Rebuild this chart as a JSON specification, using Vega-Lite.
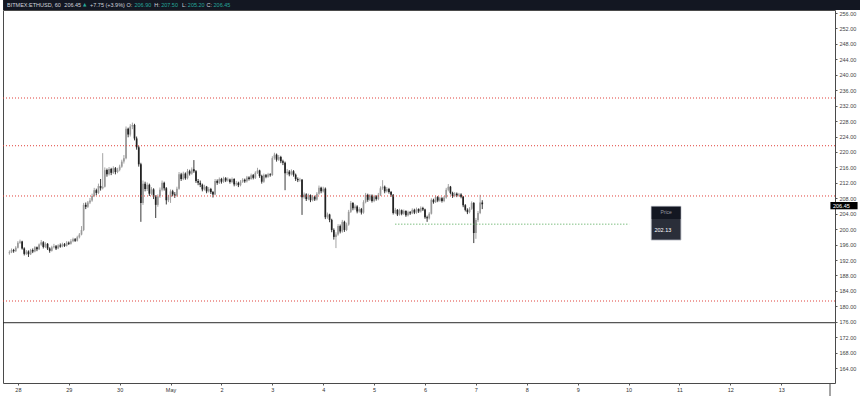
{
"$schema":"https://vega.github.io/schema/vega-lite/v6.json",
"width":832,"height":373,
"autosize":{"type":"none"},
"padding":{"left":3,"top":10,"right":25,"bottom":13},
"background":"white",
"config":{"view":{"stroke":"#4a4a4a","strokeWidth":1},"font":"Liberation Sans",
 "axis":{"grid":false,"domain":false,"tickSize":2,"tickColor":"#555","labelFontSize":5.5,"labelColor":"#333","labelPadding":2,"labelFont":"Liberation Sans","labelOverlap":false,"labelFlush":false}},
"datasets":{
"candles":[
{"i":-4,"o":193.8,"h":194.5,"l":193.4,"c":194.0},
{"i":-3,"o":194.0,"h":195.0,"l":193.8,"c":194.6},
{"i":-2,"o":194.6,"h":194.9,"l":193.9,"c":194.3},
{"i":-1,"o":194.3,"h":195.6,"l":194.1,"c":195.2},
{"i":0,"o":195.2,"h":196.9,"l":195.0,"c":196.5},
{"i":1,"o":196.5,"h":197.3,"l":196.2,"c":196.8},
{"i":2,"o":196.8,"h":197.0,"l":194.7,"c":195.0},
{"i":3,"o":195.0,"h":195.3,"l":193.2,"c":193.6},
{"i":4,"o":193.6,"h":194.6,"l":193.3,"c":194.2},
{"i":5,"o":194.2,"h":194.5,"l":192.8,"c":193.5},
{"i":6,"o":193.5,"h":194.9,"l":193.3,"c":194.6},
{"i":7,"o":194.6,"h":195.0,"l":193.8,"c":194.2},
{"i":8,"o":194.2,"h":195.6,"l":194.0,"c":195.3},
{"i":9,"o":195.3,"h":195.5,"l":194.3,"c":194.8},
{"i":10,"o":194.8,"h":196.3,"l":194.6,"c":196.0},
{"i":11,"o":196.0,"h":197.2,"l":195.7,"c":196.6},
{"i":12,"o":196.6,"h":196.9,"l":195.0,"c":195.4},
{"i":13,"o":195.4,"h":196.6,"l":195.1,"c":196.2},
{"i":14,"o":196.2,"h":196.4,"l":194.6,"c":195.0},
{"i":15,"o":195.0,"h":195.3,"l":193.9,"c":194.4},
{"i":16,"o":194.4,"h":195.7,"l":194.2,"c":195.3},
{"i":17,"o":195.3,"h":196.2,"l":195.0,"c":195.6},
{"i":18,"o":195.6,"h":195.9,"l":194.6,"c":195.0},
{"i":19,"o":195.0,"h":196.1,"l":194.8,"c":195.8},
{"i":20,"o":195.8,"h":196.3,"l":195.2,"c":195.5},
{"i":21,"o":195.5,"h":196.5,"l":195.3,"c":196.1},
{"i":22,"o":196.1,"h":196.4,"l":195.4,"c":195.7},
{"i":23,"o":195.7,"h":196.9,"l":195.5,"c":196.5},
{"i":24,"o":196.5,"h":196.8,"l":195.9,"c":196.2},
{"i":25,"o":196.2,"h":197.4,"l":196.0,"c":196.9},
{"i":26,"o":196.9,"h":197.8,"l":196.6,"c":197.4},
{"i":27,"o":197.4,"h":197.7,"l":196.7,"c":197.0},
{"i":28,"o":197.0,"h":198.3,"l":196.8,"c":197.9},
{"i":29,"o":197.9,"h":199.0,"l":197.6,"c":198.6},
{"i":30,"o":198.6,"h":200.8,"l":198.4,"c":199.8},
{"i":31,"o":199.8,"h":206.8,"l":199.5,"c":206.3},
{"i":32,"o":206.3,"h":206.9,"l":205.2,"c":205.8},
{"i":33,"o":205.8,"h":207.3,"l":205.5,"c":206.9},
{"i":34,"o":206.9,"h":208.1,"l":206.5,"c":207.4},
{"i":35,"o":207.4,"h":209.2,"l":207.1,"c":208.6},
{"i":36,"o":208.6,"h":210.7,"l":208.3,"c":210.1},
{"i":37,"o":210.1,"h":210.5,"l":208.8,"c":209.4},
{"i":38,"o":209.4,"h":211.8,"l":209.1,"c":211.2},
{"i":39,"o":211.2,"h":213.0,"l":210.0,"c":210.6},
{"i":40,"o":210.6,"h":219.7,"l":210.3,"c":211.0},
{"i":41,"o":211.0,"h":216.0,"l":210.8,"c":215.3},
{"i":42,"o":215.3,"h":215.7,"l":213.6,"c":214.2},
{"i":43,"o":214.2,"h":216.1,"l":213.9,"c":215.6},
{"i":44,"o":215.6,"h":215.9,"l":214.0,"c":214.6},
{"i":45,"o":214.6,"h":216.3,"l":214.3,"c":215.8},
{"i":46,"o":215.8,"h":216.1,"l":214.2,"c":214.8},
{"i":47,"o":214.8,"h":215.9,"l":214.5,"c":215.4},
{"i":48,"o":215.4,"h":216.7,"l":215.0,"c":216.2},
{"i":49,"o":216.2,"h":218.0,"l":215.9,"c":217.5},
{"i":50,"o":217.5,"h":219.2,"l":217.0,"c":218.4},
{"i":51,"o":218.4,"h":226.6,"l":218.1,"c":226.0},
{"i":52,"o":226.0,"h":226.3,"l":223.8,"c":224.5},
{"i":53,"o":224.5,"h":227.2,"l":224.0,"c":226.6},
{"i":54,"o":226.6,"h":227.6,"l":225.9,"c":227.0},
{"i":55,"o":227.0,"h":227.3,"l":223.0,"c":223.5},
{"i":56,"o":223.5,"h":224.0,"l":220.6,"c":221.2},
{"i":57,"o":221.2,"h":221.6,"l":216.2,"c":216.8},
{"i":58,"o":216.8,"h":217.2,"l":201.9,"c":206.8},
{"i":59,"o":206.8,"h":212.6,"l":206.3,"c":211.8},
{"i":60,"o":211.8,"h":212.3,"l":209.8,"c":210.4},
{"i":61,"o":210.4,"h":212.1,"l":209.9,"c":211.5},
{"i":62,"o":211.5,"h":211.8,"l":208.6,"c":209.2},
{"i":63,"o":209.2,"h":210.9,"l":208.8,"c":210.3},
{"i":64,"o":210.3,"h":210.6,"l":207.8,"c":208.4},
{"i":65,"o":208.4,"h":208.8,"l":202.9,"c":206.3},
{"i":66,"o":206.3,"h":209.0,"l":205.8,"c":208.5},
{"i":67,"o":208.5,"h":210.8,"l":208.1,"c":210.2},
{"i":68,"o":210.2,"h":212.6,"l":209.8,"c":212.0},
{"i":69,"o":212.0,"h":212.3,"l":210.0,"c":210.6},
{"i":70,"o":210.6,"h":210.9,"l":206.4,"c":207.5},
{"i":71,"o":207.5,"h":208.9,"l":207.0,"c":208.4},
{"i":72,"o":208.4,"h":210.3,"l":206.8,"c":209.8},
{"i":73,"o":209.8,"h":210.2,"l":208.5,"c":209.0},
{"i":74,"o":209.0,"h":209.6,"l":208.1,"c":208.7},
{"i":75,"o":208.7,"h":211.0,"l":208.4,"c":210.5},
{"i":76,"o":210.5,"h":214.8,"l":210.2,"c":214.2},
{"i":77,"o":214.2,"h":214.6,"l":212.5,"c":213.0},
{"i":78,"o":213.0,"h":214.9,"l":212.7,"c":214.4},
{"i":79,"o":214.4,"h":214.7,"l":212.8,"c":213.2},
{"i":80,"o":213.2,"h":215.6,"l":212.9,"c":215.0},
{"i":81,"o":215.0,"h":215.4,"l":213.9,"c":214.4},
{"i":82,"o":214.4,"h":216.0,"l":214.1,"c":215.5},
{"i":83,"o":215.5,"h":217.9,"l":214.6,"c":215.0},
{"i":84,"o":215.0,"h":215.3,"l":212.0,"c":212.5},
{"i":85,"o":212.5,"h":213.0,"l":211.4,"c":212.0},
{"i":86,"o":212.0,"h":212.6,"l":210.9,"c":211.5},
{"i":87,"o":211.5,"h":211.8,"l":209.8,"c":210.3},
{"i":88,"o":210.3,"h":211.5,"l":210.0,"c":211.0},
{"i":89,"o":211.0,"h":211.2,"l":209.3,"c":209.8},
{"i":90,"o":209.8,"h":210.9,"l":209.5,"c":210.4},
{"i":91,"o":210.4,"h":210.7,"l":209.1,"c":209.6},
{"i":92,"o":209.6,"h":209.9,"l":208.2,"c":209.0},
{"i":93,"o":209.0,"h":213.0,"l":208.8,"c":212.5},
{"i":94,"o":212.5,"h":212.9,"l":211.5,"c":212.0},
{"i":95,"o":212.0,"h":213.4,"l":211.7,"c":213.0},
{"i":96,"o":213.0,"h":213.3,"l":211.8,"c":212.3},
{"i":97,"o":212.3,"h":213.6,"l":212.0,"c":213.2},
{"i":98,"o":213.2,"h":213.5,"l":212.2,"c":212.6},
{"i":99,"o":212.6,"h":213.4,"l":212.3,"c":212.9},
{"i":100,"o":212.9,"h":213.1,"l":211.8,"c":212.2},
{"i":101,"o":212.2,"h":213.4,"l":211.9,"c":213.0},
{"i":102,"o":213.0,"h":213.2,"l":211.1,"c":211.6},
{"i":103,"o":211.6,"h":212.5,"l":211.2,"c":212.0},
{"i":104,"o":212.0,"h":212.3,"l":210.9,"c":211.4},
{"i":105,"o":211.4,"h":212.7,"l":211.1,"c":212.3},
{"i":106,"o":212.3,"h":213.2,"l":212.0,"c":212.8},
{"i":107,"o":212.8,"h":213.1,"l":212.0,"c":212.4},
{"i":108,"o":212.4,"h":213.8,"l":212.1,"c":213.4},
{"i":109,"o":213.4,"h":213.7,"l":212.6,"c":213.0},
{"i":110,"o":213.0,"h":214.4,"l":212.8,"c":214.0},
{"i":111,"o":214.0,"h":214.3,"l":212.9,"c":213.3},
{"i":112,"o":213.3,"h":215.0,"l":213.0,"c":214.6},
{"i":113,"o":214.6,"h":215.9,"l":214.3,"c":215.2},
{"i":114,"o":215.2,"h":215.4,"l":213.3,"c":213.8},
{"i":115,"o":213.8,"h":214.1,"l":211.8,"c":212.3},
{"i":116,"o":212.3,"h":214.4,"l":212.0,"c":214.0},
{"i":117,"o":214.0,"h":214.3,"l":213.2,"c":213.6},
{"i":118,"o":213.6,"h":214.6,"l":213.3,"c":214.2},
{"i":119,"o":214.2,"h":214.5,"l":213.6,"c":214.0},
{"i":120,"o":214.0,"h":218.9,"l":213.8,"c":218.4},
{"i":121,"o":218.4,"h":219.8,"l":218.0,"c":219.3},
{"i":122,"o":219.3,"h":219.6,"l":217.5,"c":218.0},
{"i":123,"o":218.0,"h":219.2,"l":217.7,"c":218.7},
{"i":124,"o":218.7,"h":219.0,"l":217.1,"c":217.6},
{"i":125,"o":217.6,"h":218.0,"l":216.6,"c":217.2},
{"i":126,"o":217.2,"h":217.5,"l":210.1,"c":214.5},
{"i":127,"o":214.5,"h":215.6,"l":214.0,"c":214.9},
{"i":128,"o":214.9,"h":215.3,"l":213.7,"c":214.2},
{"i":129,"o":214.2,"h":215.5,"l":213.9,"c":215.0},
{"i":130,"o":215.0,"h":215.3,"l":213.6,"c":214.1},
{"i":131,"o":214.1,"h":214.4,"l":212.5,"c":213.0},
{"i":132,"o":213.0,"h":213.4,"l":212.2,"c":212.7},
{"i":133,"o":212.7,"h":213.3,"l":212.3,"c":212.8},
{"i":134,"o":212.8,"h":213.0,"l":203.7,"c":208.3},
{"i":135,"o":208.3,"h":209.5,"l":207.9,"c":209.0},
{"i":136,"o":209.0,"h":209.3,"l":207.3,"c":207.8},
{"i":137,"o":207.8,"h":209.2,"l":207.5,"c":208.8},
{"i":138,"o":208.8,"h":209.0,"l":207.0,"c":207.5},
{"i":139,"o":207.5,"h":208.8,"l":207.2,"c":208.4},
{"i":140,"o":208.4,"h":208.7,"l":207.3,"c":207.7},
{"i":141,"o":207.7,"h":209.6,"l":207.4,"c":209.2},
{"i":142,"o":209.2,"h":211.3,"l":208.9,"c":210.7},
{"i":143,"o":210.7,"h":211.0,"l":209.3,"c":209.8},
{"i":144,"o":209.8,"h":211.0,"l":209.5,"c":210.5},
{"i":145,"o":210.5,"h":210.8,"l":202.6,"c":203.1},
{"i":146,"o":203.1,"h":204.3,"l":202.7,"c":203.8},
{"i":147,"o":203.8,"h":204.0,"l":201.8,"c":202.4},
{"i":148,"o":202.4,"h":202.7,"l":199.2,"c":199.8},
{"i":149,"o":199.8,"h":200.2,"l":197.3,"c":198.0},
{"i":150,"o":198.0,"h":199.2,"l":195.1,"c":198.6},
{"i":151,"o":198.6,"h":201.3,"l":198.3,"c":200.8},
{"i":152,"o":200.8,"h":201.2,"l":198.9,"c":199.4},
{"i":153,"o":199.4,"h":202.4,"l":199.1,"c":201.9},
{"i":154,"o":201.9,"h":202.2,"l":199.3,"c":199.8},
{"i":155,"o":199.8,"h":201.7,"l":199.5,"c":201.2},
{"i":156,"o":201.2,"h":205.0,"l":200.9,"c":204.5},
{"i":157,"o":204.5,"h":207.3,"l":204.2,"c":206.8},
{"i":158,"o":206.8,"h":207.0,"l":204.9,"c":205.4},
{"i":159,"o":205.4,"h":206.4,"l":205.0,"c":205.9},
{"i":160,"o":205.9,"h":206.2,"l":204.1,"c":204.6},
{"i":161,"o":204.6,"h":205.7,"l":204.3,"c":205.2},
{"i":162,"o":205.2,"h":205.5,"l":203.8,"c":204.3},
{"i":163,"o":204.3,"h":207.5,"l":204.0,"c":207.0},
{"i":164,"o":207.0,"h":209.4,"l":206.7,"c":208.9},
{"i":165,"o":208.9,"h":209.2,"l":207.1,"c":207.6},
{"i":166,"o":207.6,"h":209.1,"l":207.3,"c":208.7},
{"i":167,"o":208.7,"h":209.0,"l":206.9,"c":207.3},
{"i":168,"o":207.3,"h":208.9,"l":207.0,"c":208.5},
{"i":169,"o":208.5,"h":208.8,"l":207.4,"c":207.8},
{"i":170,"o":207.8,"h":209.4,"l":207.5,"c":208.9},
{"i":171,"o":208.9,"h":211.1,"l":208.6,"c":210.6},
{"i":172,"o":210.6,"h":212.7,"l":210.2,"c":211.0},
{"i":173,"o":211.0,"h":211.3,"l":209.3,"c":209.8},
{"i":174,"o":209.8,"h":210.9,"l":209.5,"c":210.4},
{"i":175,"o":210.4,"h":210.7,"l":209.2,"c":209.6},
{"i":176,"o":209.6,"h":209.9,"l":208.4,"c":208.9},
{"i":177,"o":208.9,"h":209.1,"l":203.8,"c":204.2},
{"i":178,"o":204.2,"h":205.5,"l":203.9,"c":205.0},
{"i":179,"o":205.0,"h":205.2,"l":203.4,"c":203.8},
{"i":180,"o":203.8,"h":205.3,"l":203.5,"c":204.9},
{"i":181,"o":204.9,"h":205.1,"l":203.6,"c":204.0},
{"i":182,"o":204.0,"h":205.1,"l":203.7,"c":204.7},
{"i":183,"o":204.7,"h":204.9,"l":203.2,"c":203.6},
{"i":184,"o":203.6,"h":204.8,"l":203.3,"c":204.4},
{"i":185,"o":204.4,"h":204.7,"l":203.7,"c":204.1},
{"i":186,"o":204.1,"h":205.4,"l":203.9,"c":205.0},
{"i":187,"o":205.0,"h":205.3,"l":203.9,"c":204.3},
{"i":188,"o":204.3,"h":205.6,"l":204.0,"c":205.2},
{"i":189,"o":205.2,"h":205.4,"l":204.2,"c":204.6},
{"i":190,"o":204.6,"h":205.9,"l":204.3,"c":205.5},
{"i":191,"o":205.5,"h":205.8,"l":204.7,"c":205.1},
{"i":192,"o":205.1,"h":205.3,"l":202.7,"c":203.1},
{"i":193,"o":203.1,"h":203.5,"l":201.9,"c":202.8},
{"i":194,"o":202.8,"h":204.4,"l":202.5,"c":204.0},
{"i":195,"o":204.0,"h":208.0,"l":203.8,"c":207.6},
{"i":196,"o":207.6,"h":207.9,"l":206.6,"c":207.0},
{"i":197,"o":207.0,"h":208.7,"l":206.8,"c":208.3},
{"i":198,"o":208.3,"h":208.6,"l":207.0,"c":207.4},
{"i":199,"o":207.4,"h":208.4,"l":207.1,"c":208.0},
{"i":200,"o":208.0,"h":208.3,"l":206.9,"c":207.3},
{"i":201,"o":207.3,"h":208.6,"l":207.0,"c":208.2},
{"i":202,"o":208.2,"h":210.7,"l":207.9,"c":210.2},
{"i":203,"o":210.2,"h":211.7,"l":209.8,"c":211.0},
{"i":204,"o":211.0,"h":211.2,"l":209.0,"c":209.4},
{"i":205,"o":209.4,"h":209.7,"l":208.1,"c":208.6},
{"i":206,"o":208.6,"h":209.6,"l":208.3,"c":209.2},
{"i":207,"o":209.2,"h":209.5,"l":208.3,"c":208.7},
{"i":208,"o":208.7,"h":209.4,"l":208.4,"c":209.0},
{"i":209,"o":209.0,"h":209.3,"l":208.0,"c":208.4},
{"i":210,"o":208.4,"h":208.6,"l":205.7,"c":206.2},
{"i":211,"o":206.2,"h":206.5,"l":204.6,"c":205.0},
{"i":212,"o":205.0,"h":205.4,"l":203.9,"c":204.4},
{"i":213,"o":204.4,"h":205.7,"l":204.1,"c":205.3},
{"i":214,"o":205.3,"h":207.2,"l":205.0,"c":206.8},
{"i":215,"o":206.8,"h":207.0,"l":196.4,"c":199.0},
{"i":216,"o":199.0,"h":202.9,"l":197.5,"c":202.4},
{"i":217,"o":202.4,"h":204.7,"l":201.9,"c":204.2},
{"i":218,"o":204.2,"h":208.9,"l":203.9,"c":206.9},
{"i":219,"o":206.9,"h":207.5,"l":205.2,"c":206.45}
],
"levels":[{"p":233.98},{"p":221.62},{"p":208.6},{"p":181.39}],
"base":[{"p":175.77}],
"support":[{"from":178,"to":288.4,"p":201.3}],
"one":[{"n":1}]
},
"layer":[
{"data":{"name":"candles"},
 "mark":{"type":"rule","strokeWidth":0.9},
 "encoding":{
  "x":{"field":"i","type":"quantitative","scale":{"domain":[-4.66,383.0],"nice":false,"zero":false},
   "axis":{"values":[0,24,48,72,96,120,144,168,192,216,240,264,288,312,336,360],"tickCount":40,
    "labelExpr":"datum.value == 72 ? 'May' : (datum.value < 72 ? '' + (28 + datum.value / 24) : '' + (datum.value / 24 - 2))",
    "title":null,"labelOverlap":false}},
  "y":{"field":"l","type":"quantitative","scale":{"domain":[160.15,256.78],"nice":false,"zero":false},
   "axis":{"orient":"right","values":[164,168,172,176,180,184,188,192,196,200,204,208,212,216,220,224,228,232,236,240,244,248,252,256],"tickCount":40,
    "format":".2f","title":null,"labelColor":"#444","labelOverlap":false,"labelFlush":false}},
  "y2":{"field":"h"},
  "color":{"condition":{"test":"datum.c >= datum.o","value":"#9a9a9a"},"value":"#222222"}}},
{"data":{"name":"candles"},
 "mark":{"type":"bar","size":1.7,"orient":"vertical"},
 "encoding":{
  "x":{"field":"i","type":"quantitative","title":null},
  "y":{"field":"o","type":"quantitative","title":null},
  "y2":{"field":"c"},
  "color":{"condition":{"test":"datum.c >= datum.o","value":"#9a9a9a"},"value":"#222222"}}},
{"data":{"name":"one"},"mark":{"type":"rect","color":"#131722"},
 "encoding":{"x":{"datum":-7,"type":"quantitative"},"x2":{"datum":400},
  "y":{"datum":256.78,"type":"quantitative"},"y2":{"datum":260.5}}},
{"data":{"name":"levels"},
 "mark":{"type":"rule","color":"#e0413a","strokeDash":[1,2],"strokeWidth":1},
 "encoding":{"y":{"field":"p","type":"quantitative","title":null}}},
{"data":{"name":"base"},
 "mark":{"type":"rule","color":"#2b2b2b","strokeWidth":1},
 "encoding":{"y":{"field":"p","type":"quantitative","title":null}}},
{"data":{"name":"support"},
 "mark":{"type":"rule","color":"#43a047","strokeDash":[1,2],"strokeWidth":1},
 "encoding":{"x":{"field":"from","type":"quantitative","title":null},"x2":{"field":"to"},
  "y":{"field":"p","type":"quantitative","title":null}}},
{"data":{"name":"one"},"mark":{"type":"rule","color":"#4a4a4a","strokeWidth":1},
 "encoding":{"x":{"datum":383.0,"type":"quantitative"},
  "y":{"datum":160.15,"type":"quantitative"},"y2":{"datum":156.5}}},
{"data":{"name":"one"},"mark":{"type":"rect","color":"#000000"},
 "encoding":{"x":{"datum":383.2,"type":"quantitative"},"x2":{"datum":396},
  "y":{"datum":207.04,"type":"quantitative"},"y2":{"datum":205.15}}},
{"data":{"name":"one"},"mark":{"type":"text","text":"206.45","align":"left","baseline":"middle","fontSize":5.5,"color":"#ffffff","font":"Liberation Sans"},
 "encoding":{"x":{"datum":384.4,"type":"quantitative"},"y":{"datum":206.1,"type":"quantitative"}}},
{"data":{"name":"one"},"mark":{"type":"rect","fill":"#2a2e39","stroke":"#b2b5be","strokeWidth":0.8},
 "encoding":{"x":{"datum":298.7,"type":"quantitative"},"x2":{"datum":312.7},
  "y":{"datum":205.92,"type":"quantitative"},"y2":{"datum":197.19}}},
{"data":{"name":"one"},"mark":{"type":"rect","fill":"#131722"},
 "encoding":{"x":{"datum":298.9,"type":"quantitative"},"x2":{"datum":312.5},
  "y":{"datum":205.8,"type":"quantitative"},"y2":{"datum":202.64}}},
{"data":{"name":"one"},"mark":{"type":"text","text":"Price","align":"center","baseline":"middle","fontSize":5,"color":"#9598a1","font":"Liberation Sans"},
 "encoding":{"x":{"datum":305.7,"type":"quantitative"},"y":{"datum":204.5,"type":"quantitative"}}},
{"data":{"name":"one"},"mark":{"type":"text","text":"202.13","align":"left","baseline":"middle","fontSize":5.5,"color":"#ffffff","font":"Liberation Sans"},
 "encoding":{"x":{"datum":300.2,"type":"quantitative"},"y":{"datum":199.78,"type":"quantitative"}}},
{"data":{"name":"one"},"mark":{"type":"text","text":"BITMEX:ETHUSD, 60","align":"left","baseline":"middle","fontSize":5.5,"color":"#d1d4dc","font":"Liberation Sans"},
 "encoding":{"x":{"datum":-5.13,"type":"quantitative"},"y":{"datum":258.1,"type":"quantitative"}}},
{"data":{"name":"one"},"mark":{"type":"text","text":"206.45","align":"left","baseline":"middle","fontSize":5.5,"color":"#d1d4dc","font":"Liberation Sans"},
 "encoding":{"x":{"datum":21.9,"type":"quantitative"},"y":{"datum":258.1,"type":"quantitative"}}},
{"data":{"name":"one"},"mark":{"type":"text","text":"▲","align":"left","baseline":"middle","fontSize":4.5,"color":"#26a69a","font":"DejaVu Sans"},
 "encoding":{"x":{"datum":30.75,"type":"quantitative"},"y":{"datum":258.1,"type":"quantitative"}}},
{"data":{"name":"one"},"mark":{"type":"text","text":"+7.75 (+3.9%)","align":"left","baseline":"middle","fontSize":5.5,"color":"#d1d4dc","font":"Liberation Sans"},
 "encoding":{"x":{"datum":34.02,"type":"quantitative"},"y":{"datum":258.1,"type":"quantitative"}}},
{"data":{"name":"one"},"mark":{"type":"text","text":"O:","align":"left","baseline":"middle","fontSize":5.5,"color":"#d1d4dc","font":"Liberation Sans"},
 "encoding":{"x":{"datum":51.26,"type":"quantitative"},"y":{"datum":258.1,"type":"quantitative"}}},
{"data":{"name":"one"},"mark":{"type":"text","text":"206.90","align":"left","baseline":"middle","fontSize":5.5,"color":"#26a69a","font":"Liberation Sans"},
 "encoding":{"x":{"datum":54.99,"type":"quantitative"},"y":{"datum":258.1,"type":"quantitative"}}},
{"data":{"name":"one"},"mark":{"type":"text","text":"H:","align":"left","baseline":"middle","fontSize":5.5,"color":"#d1d4dc","font":"Liberation Sans"},
 "encoding":{"x":{"datum":64.31,"type":"quantitative"},"y":{"datum":258.1,"type":"quantitative"}}},
{"data":{"name":"one"},"mark":{"type":"text","text":"207.50","align":"left","baseline":"middle","fontSize":5.5,"color":"#26a69a","font":"Liberation Sans"},
 "encoding":{"x":{"datum":67.57,"type":"quantitative"},"y":{"datum":258.1,"type":"quantitative"}}},
{"data":{"name":"one"},"mark":{"type":"text","text":"L:","align":"left","baseline":"middle","fontSize":5.5,"color":"#d1d4dc","font":"Liberation Sans"},
 "encoding":{"x":{"datum":77.35,"type":"quantitative"},"y":{"datum":258.1,"type":"quantitative"}}},
{"data":{"name":"one"},"mark":{"type":"text","text":"205.20","align":"left","baseline":"middle","fontSize":5.5,"color":"#26a69a","font":"Liberation Sans"},
 "encoding":{"x":{"datum":80.15,"type":"quantitative"},"y":{"datum":258.1,"type":"quantitative"}}},
{"data":{"name":"one"},"mark":{"type":"text","text":"C:","align":"left","baseline":"middle","fontSize":5.5,"color":"#d1d4dc","font":"Liberation Sans"},
 "encoding":{"x":{"datum":89.0,"type":"quantitative"},"y":{"datum":258.1,"type":"quantitative"}}},
{"data":{"name":"one"},"mark":{"type":"text","text":"206.45","align":"left","baseline":"middle","fontSize":5.5,"color":"#26a69a","font":"Liberation Sans"},
 "encoding":{"x":{"datum":92.27,"type":"quantitative"},"y":{"datum":258.1,"type":"quantitative"}}}
]
}
